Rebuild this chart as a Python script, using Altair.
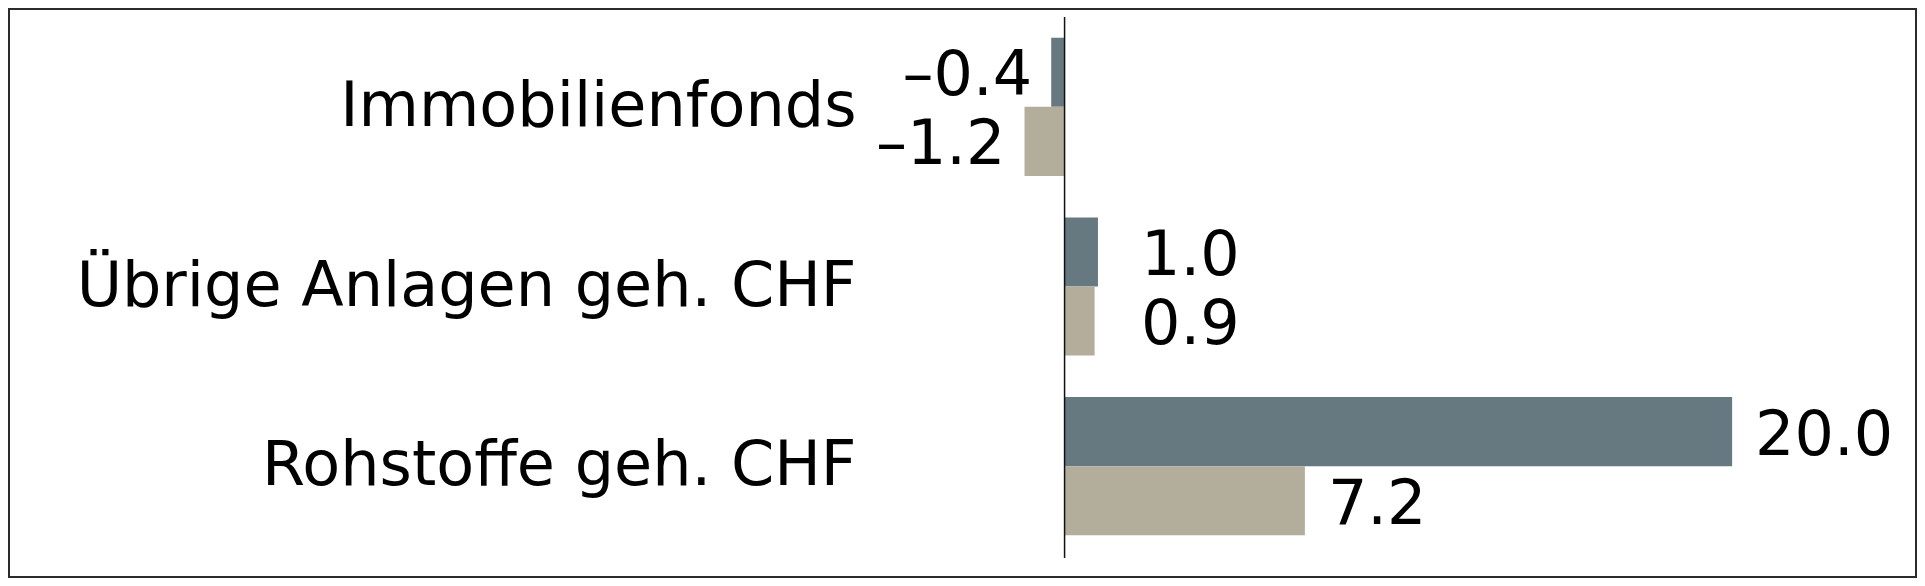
import altair as alt
import pandas as pd

categories = ["Immobilienfonds", "Übrige Anlagen geh. CHF", "Rohstoffe geh. CHF"]
series_names = ["Serie 1", "Serie 2"]
series1 = [-0.4, 1.0, 20.0]
series2 = [-1.2, 0.9, 7.2]
colors = ["#667981", "#b3ad9c"]

rows = []
for i, c in enumerate(categories):
    rows.append({"cat": c, "series": series_names[0], "value": series1[i]})
    rows.append({"cat": c, "series": series_names[1], "value": series2[i]})
df = pd.DataFrame(rows)

W, H = 1018, 539
PL, PT, PR, PB = 873, 9, 18, 22
FONT = "DejaVu Sans"
FS = 62

xscale = alt.Scale(domain=[-5.5, 25], nice=False, zero=False)
yscale = alt.Scale(domain=categories, paddingInner=0.231, paddingOuter=0.1155)
yoff = alt.YOffset("series:N", sort=series_names,
                   scale=alt.Scale(domain=series_names, paddingInner=0, paddingOuter=0))

base = alt.Chart(df)

bars = base.mark_bar().encode(
    x=alt.X("value:Q", scale=xscale, axis=None),
    y=alt.Y("cat:N", sort=categories, scale=yscale,
            axis=alt.Axis(title=None, domain=False, ticks=False, labelFontSize=FS,
                          labelFont=FONT, labelColor="#000000", labelPadding=25,
                          labelLimit=2000)),
    yOffset=yoff,
    color=alt.Color("series:N", scale=alt.Scale(domain=series_names, range=colors), legend=None),
)

pos_labels = base.transform_filter("datum.value >= 0").transform_calculate(
    lx="max(datum.value, 1.6)"
).mark_text(align="left", baseline="middle", dx=23, dy=4, font=FONT, fontSize=FS,
            color="#000000").encode(
    x=alt.X("lx:Q", scale=xscale),
    y=alt.Y("cat:N", sort=categories, scale=yscale),
    yOffset=yoff,
    text=alt.Text("value:Q", format=".1f"),
)

neg_labels = base.transform_filter("datum.value < 0").transform_calculate(
    lbl="'\u2013' + format(abs(datum.value), '.1f')"
).mark_text(
    align="right", baseline="middle", dx=-19, dy=4, font=FONT, fontSize=FS,
    color="#000000").encode(
    x=alt.X("value:Q", scale=xscale),
    y=alt.Y("cat:N", sort=categories, scale=yscale),
    yOffset=yoff,
    text=alt.Text("lbl:N"),
)

one = pd.DataFrame({"v": [0]})
zero_rule = alt.Chart(one).mark_rule(color="#111111", strokeWidth=1.5).encode(
    x=alt.X("v:Q", scale=xscale),
    y=alt.value(0),
    y2=alt.value(H + 2),
)

frame = alt.Chart(one).mark_rect(fillOpacity=0, stroke="#2b2b2b", strokeWidth=2).encode(
    x=alt.value(-PL + 1),
    x2=alt.value(W + PR - 1),
    y=alt.value(-PT + 1),
    y2=alt.value(H + PB - 1),
)

chart = alt.layer(bars, zero_rule, pos_labels, neg_labels, frame).properties(
    width=W,
    height=H,
    autosize=alt.AutoSizeParams(type="none"),
    padding={"left": PL, "top": PT, "right": PR, "bottom": PB},
    background="#ffffff",
).configure_view(strokeWidth=0)

chart.save("out.html", embed_options={"renderer": "svg", "actions": False})
